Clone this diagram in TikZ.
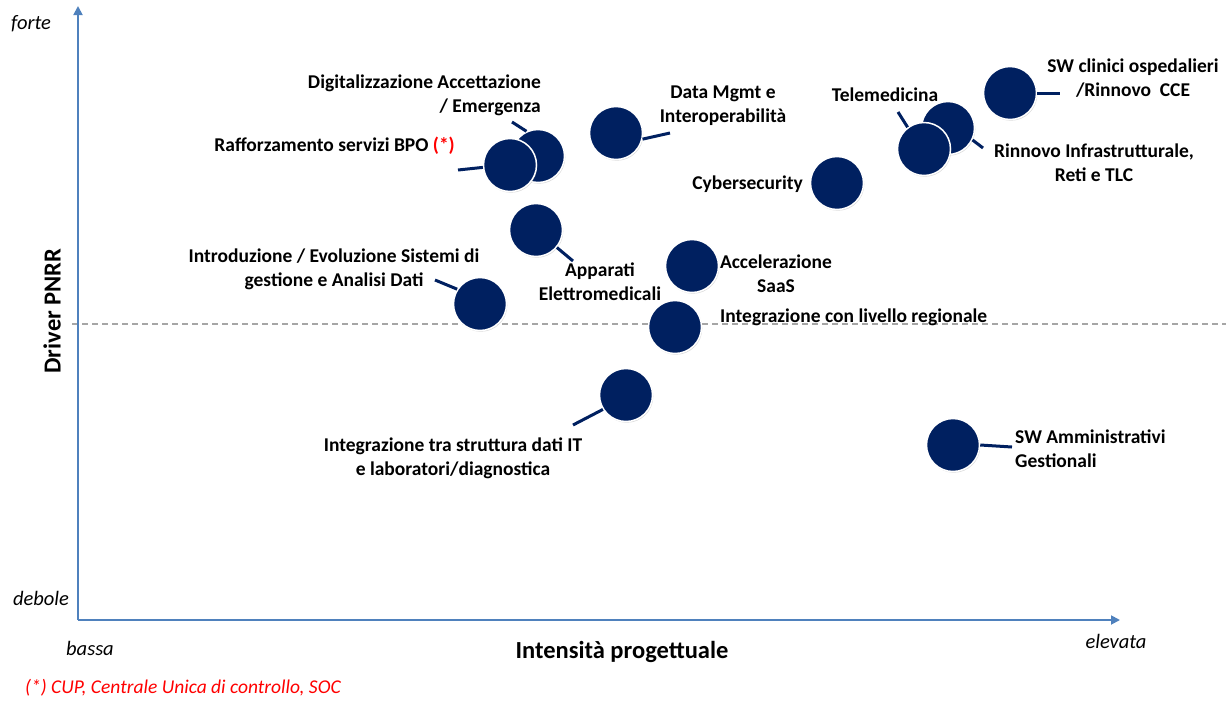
\documentclass[tikz,border=0pt]{standalone}
\usepackage{fontspec}
\setmainfont{Carlito}
\usetikzlibrary{arrows.meta, positioning, shadows}
\definecolor{navy}{HTML}{002060}
\definecolor{axisblue}{HTML}{4F81BD}
\definecolor{notered}{HTML}{FF0000}

\begin{document}
\begin{tikzpicture}[x=1pt, y=-1pt]
    % Styles
    \tikzstyle{bubble} = [circle, fill=navy, draw=white, line width=1.5pt, minimum size=53pt, inner sep=0pt, drop shadow={opacity=0.3, shadow xshift=0.8pt, shadow yshift=-1.2pt}]
    \tikzstyle{lead} = [draw, navy, line width=3pt]
    \tikzstyle{tag} = [font=\bfseries\fontsize{19.5}{24}\selectfont, inner sep=0pt, align=center]
    \tikzstyle{axis} = [draw, axisblue, line width=1.8pt, -{Triangle[width=9pt,length=9pt]}]
    \tikzstyle{midline} = [draw, gray!70, line width=1.3pt, dash pattern=on 6pt off 4pt]
    \tikzstyle{extreme} = [font=\itshape\fontsize{20.5}{24}\selectfont, inner sep=0pt]
    \tikzstyle{title} = [font=\bfseries\fontsize{24.5}{28}\selectfont, inner sep=0pt]

    \useasboundingbox (0,0) rectangle (1231,702);

    % Axes
    \coordinate (origin) at (78,620);
    \coordinate (ytop) at (78,6);
    \coordinate (xend) at (1120,620);
    \coordinate (midL) at (72,324);
    \coordinate (midR) at (1226,324);
    \draw [midline] (midL) -- (midR);
    \draw [axis] (origin) -- (ytop);
    \draw [axis] (origin) -- (xend);

    \node [extreme] (forte) at (31,24) {forte};
    \node [extreme] (debole) at (41,598) {debole};
    \node [extreme] (bassa) at (90,648) {bassa};
    \node [extreme] (elevata) at (1116,641) {elevata};
    \node [title, rotate=90] (driver) at (52,311) {Driver PNRR};
    \node [title] (intens) at (622,652) {Intensità progettuale};
    \node [extreme, font=\itshape\fontsize{19.5}{24}\selectfont, text=notered, anchor=west] (nota) at (25,688) {(*) CUP, Centrale Unica di controllo, SOC};

    % Nodes
    \node [bubble] (digit) at (538,156) {};
    \node [bubble] (bpo) at (510,165) {};
    \node [bubble] (datamgmt) at (616,133) {};
    \node [bubble] (infra) at (948,128) {};
    \node [bubble] (telemed) at (924,149) {};
    \node [bubble] (swclin) at (1010,93) {};
    \node [bubble] (cyber) at (837,183) {};
    \node [bubble] (apparati) at (536,230) {};
    \node [bubble] (analisi) at (480,304) {};
    \node [bubble] (saas) at (692,266) {};
    \node [bubble] (regione) at (675,327) {};
    \node [bubble] (lab) at (626,395) {};
    \node [bubble] (swamm) at (953,445) {};

    % Labels
    \node [tag, anchor=east, align=right] (digitT) at (541,95) {Digitalizzazione Accettazione\\/ Emergenza};
    \node [tag, anchor=east] (bpoT) at (455,146) {Rafforzamento servizi BPO \textcolor{notered}{(*)}};
    \node [tag] (datamgmtT) at (723,106) {Data Mgmt e\\Interoperabilità};
    \node [tag] (telemedT) at (885,95) {Telemedicina};
    \node [tag] (swclinT) at (1133,78) {SW clinici ospedalieri\\/Rinnovo\ \ CCE};
    \node [tag] (infraT) at (1094,163) {Rinnovo Infrastrutturale,\\Reti e TLC};
    \node [tag, anchor=east] (cyberT) at (803,184) {Cybersecurity};
    \node [tag] (analisiT) at (334,269) {Introduzione / Evoluzione Sistemi di\\gestione e Analisi Dati};
    \node [tag] (apparatiT) at (600,282) {Apparati\\Elettromedicali};
    \node [tag] (saasT) at (776,274) {Accelerazione\\SaaS};
    \node [tag, anchor=west] (regioneT) at (720,317) {Integrazione con livello regionale};
    \node [tag] (labT) at (453,458) {Integrazione tra struttura dati IT\\e laboratori/diagnostica};
    \node [tag, anchor=west, align=left] (swammT) at (1015,449) {SW Amministrativi\\Gestionali};

    % Leads
    \coordinate (digitL) at (512,122);
    \coordinate (bpoL) at (458,170);
    \coordinate (datamgmtL) at (670,133);
    \coordinate (telemedL) at (898,112);
    \coordinate (infraL) at (983,148);
    \coordinate (swclinL) at (1060,93);
    \coordinate (apparatiL) at (573,261);
    \coordinate (analisiL) at (435,280);
    \coordinate (labL) at (573,425);
    \coordinate (swammL) at (1012,447);

    \draw [lead] (digit.115) -- (digitL);
    \draw [lead] (bpo.185) -- (bpoL);
    \draw [lead] (datamgmt.-13) -- (datamgmtL);
    \draw [lead] (telemed.127) -- (telemedL);
    \draw [lead] (infra.-26) -- (infraL);
    \draw [lead] (swclin.east) -- (swclinL);
    \draw [lead] (apparati.-40) -- (apparatiL);
    \draw [lead] (analisi.147) -- (analisiL);
    \draw [lead] (lab.212) -- (labL);
    \draw [lead] (swamm.east) -- (swammL);

\end{tikzpicture}
\end{document}
